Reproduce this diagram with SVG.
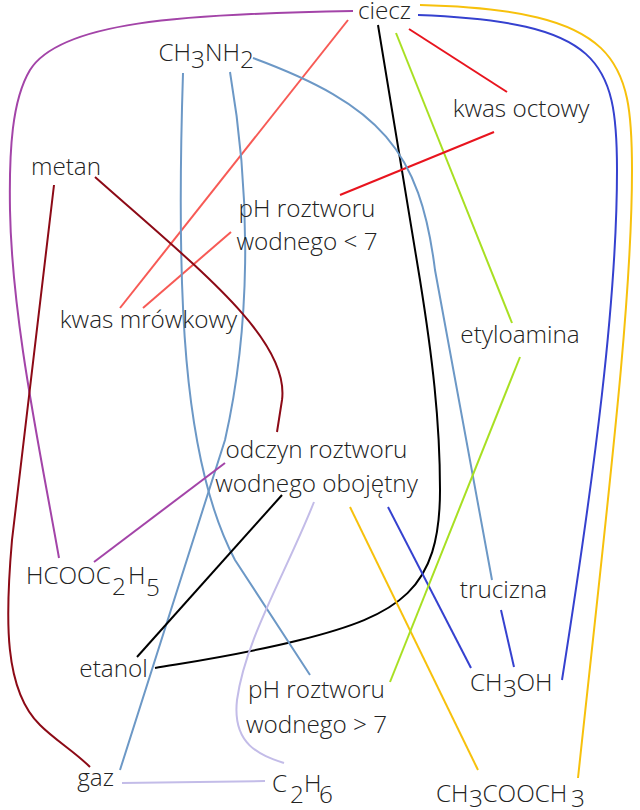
<svg xmlns="http://www.w3.org/2000/svg" width="640" height="810" viewBox="0 0 640 810">
<style>
text{font-family:"Open Sans","Liberation Sans",sans-serif;font-weight:300;font-size:24.3px;fill:#222}
.m{text-anchor:middle}
path{fill:none;stroke-width:2;stroke-linecap:butt}
.pu{stroke:#a344a8}.co{stroke:#f75a55}.rd{stroke:#e8141e}.bk{stroke:#000}
.yg{stroke:#a8e022}.ye{stroke:#f7c10c}.bl{stroke:#3541cf}.sb{stroke:#6c98c6}
.dr{stroke:#8c0a16}.lv{stroke:#c3bce8}
</style>
<rect width="640" height="810" fill="#fff"/>
<g id="connectors">
<path class="pu" d="M353,11 C180,14 60,22 30,70 C12,100 9,150 10,210 C12,320 40,450 59,558"/>
<path class="co" d="M348,20 L120,308"/>
<path class="co" d="M231,232 L143,308"/>
<path class="bk" d="M378,25 L420,280 C432,355 440,420 440,490 C440,590 400,615 300,640 C240,655 190,662 155,668"/>
<path class="yg" d="M396,33 L512,323"/>
<path class="rd" d="M409,29 L507,92"/>
<path class="rd" d="M494,132 L340,195"/>
<path class="ye" d="M420,5 C620,10 632,60 632,170 C632,300 610,480 578,778"/>
<path class="bl" d="M418,15 C600,22 617,60 617,170 C617,300 595,470 562,680"/>
<path class="bl" d="M388,507 L471,668"/>
<path class="bl" d="M501,610 L514,667"/>
<path class="sb" d="M253,58 C380,105 420,150 435,270 L492,580"/>
<path class="sb" d="M183,73 C176,290 182,460 235,560 L310,675"/>
<path class="sb" d="M230,72 C252,200 250,330 225,440 L120,770"/>
<path class="dr" d="M95,177 C200,270 290,340 282,400 L277,432"/>
<path class="dr" d="M54,185 L12,540 C5,620 4,690 40,725 C55,740 75,752 90,767"/>
<path class="pu" d="M225,463 L94,562"/>
<path class="bk" d="M282,495 L137,657"/>
<path class="lv" d="M314,502 C285,575 245,640 237,700 C232,745 260,755 284,763"/>
<path class="lv" d="M122,783 L265,781"/>
<path class="ye" d="M350,507 L478,770"/>
<path class="yg" d="M520,357 L390,682"/>
</g>
<g id="ciecz"><text class="m" x="384.5" y="19">ciecz</text></g>
<g id="ch3nh2"><text x="158.5" y="61">CH<tspan dy="6.5">3</tspan><tspan dy="-6.5">NH</tspan><tspan dy="6.5">2</tspan></text></g>
<g id="kwas-octowy"><text class="m" x="521" y="117">kwas octowy</text></g>
<g id="metan"><text class="m" x="66" y="175">metan</text></g>
<g id="ph-lt7"><text class="m" x="307" y="217">pH roztworu</text><text class="m" x="307" y="250">wodnego &lt; 7</text></g>
<g id="kwas-mrowkowy"><text class="m" x="148.5" y="328">kwas mrówkowy</text></g>
<g id="etyloamina"><text class="m" x="520" y="343">etyloamina</text></g>
<g id="odczyn"><text class="m" x="316.5" y="458">odczyn roztworu</text><text class="m" x="316.5" y="492">wodnego obojętny</text></g>
<g id="hcooc2h5"><text x="26" y="583.5">HCOOC<tspan x="112" y="595">2</tspan><tspan x="128" y="583.5">H</tspan><tspan x="146" y="595.5">5</tspan></text></g>
<g id="trucizna"><text class="m" x="503.5" y="598">trucizna</text></g>
<g id="etanol"><text class="m" x="113.5" y="677">etanol</text></g>
<g id="ch3oh"><text x="470" y="690.7">CH<tspan x="503" y="697">3</tspan><tspan x="516.5" y="690.7">OH</tspan></text></g>
<g id="ph-gt7"><text class="m" x="316.5" y="698">pH roztworu</text><text class="m" x="316.5" y="733">wodnego &gt; 7</text></g>
<g id="gaz"><text class="m" x="95.5" y="786">gaz</text></g>
<g id="c2h6"><text x="272" y="791.7">C<tspan x="290" y="803.3">2</tspan><tspan x="304" y="791.7">H</tspan><tspan x="319" y="803">6</tspan></text></g>
<g id="ch3cooch3"><text x="436" y="801.7">CH<tspan x="469" y="807">3</tspan><tspan x="482.5" y="801.7">COOCH</tspan><tspan x="571" y="807">3</tspan></text></g>
</svg>
